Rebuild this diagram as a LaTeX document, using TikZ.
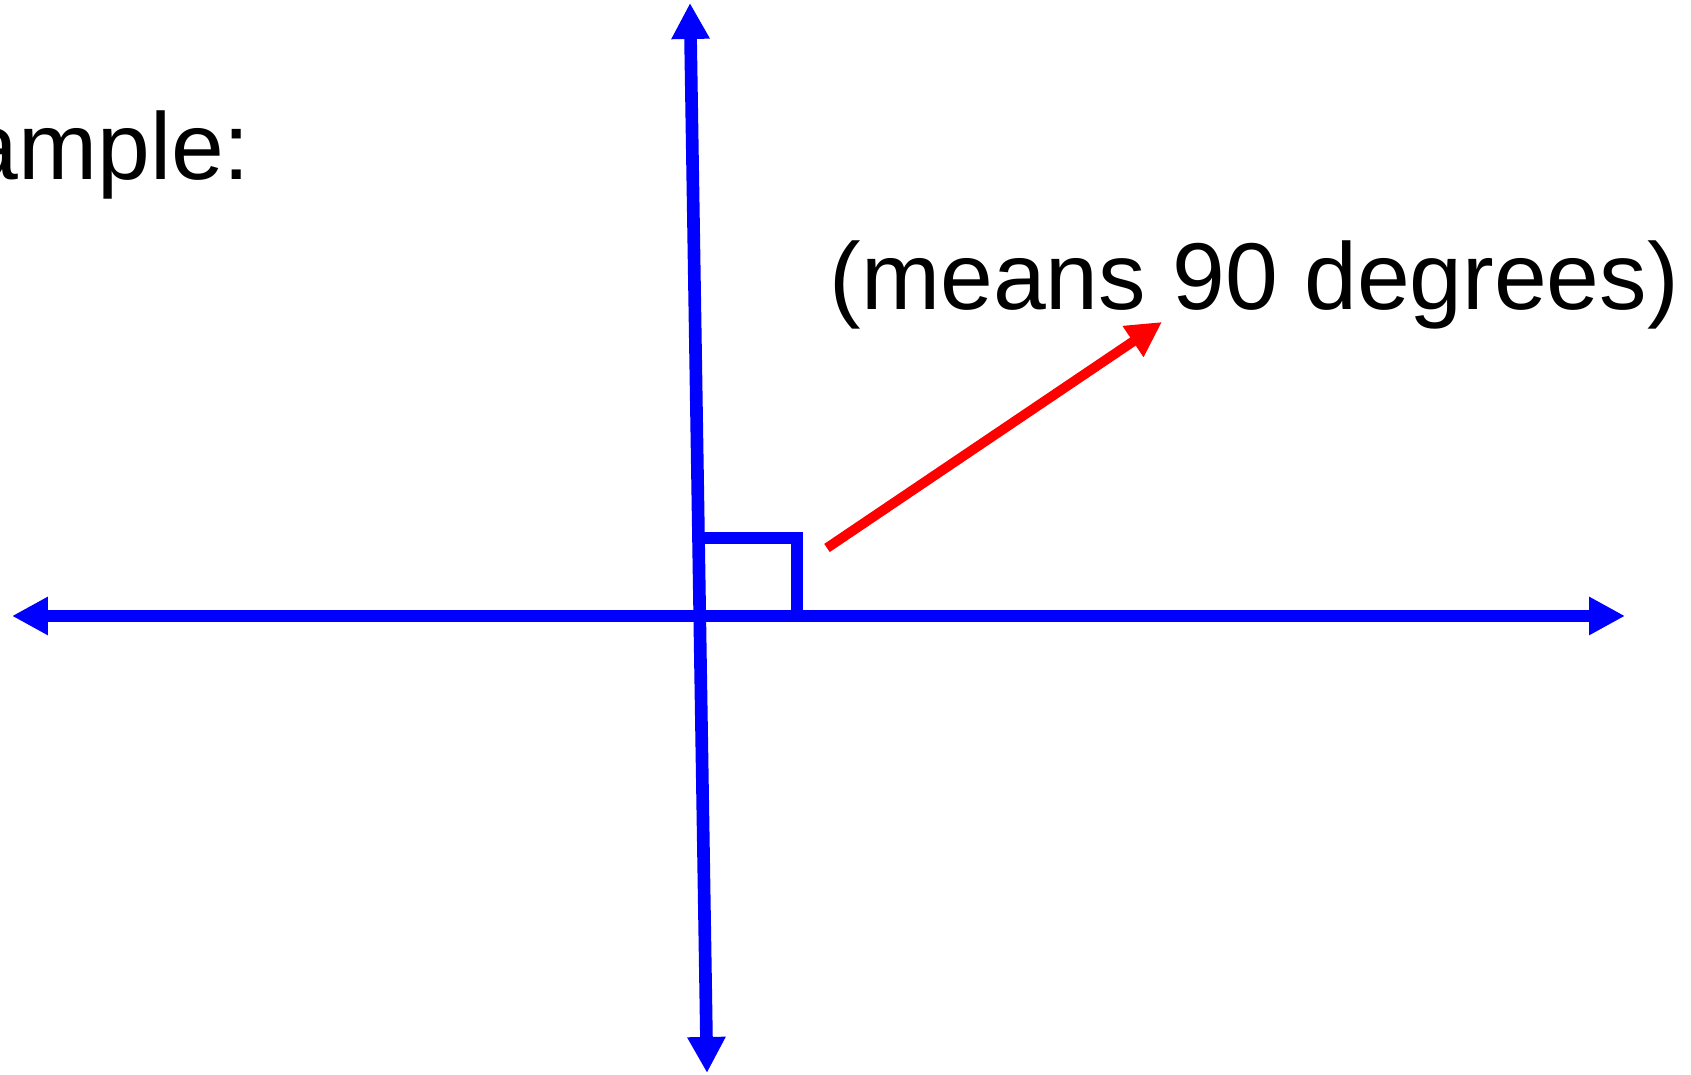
\documentclass[tikz,border=0pt]{standalone}
\usepackage{fontspec}
\setmainfont{Liberation Sans}
\usetikzlibrary{arrows.meta}

\tikzset{
  axisline/.style={blue,line width=3.6pt,>={Triangle[length=3.6mm,width=3.6mm]},<->},
  rightmark/.style={blue,line width=3.6pt,line join=miter},
  pointer/.style={red,line width=2.8pt,-{Triangle[length=3.5mm,width=3.5mm]}},
  label/.style={inner sep=0pt,font=\fontsize{27pt}{32pt}\selectfont}
}

\begin{document}
\begin{tikzpicture}
        \useasboundingbox (0,0) rectangle (16.91,10.75);
        % the two lines
        \coordinate (L) at (0.12,4.59);
        \coordinate (R) at (16.25,4.59);
        \coordinate (T) at (6.90,10.72);
        \coordinate (B) at (7.07,0.02);
        \draw[axisline] (L)--(R);
        \draw[axisline] (T)--(B);
        % right angle mark
        \coordinate (P) at (6.985,5.37);
        \coordinate (Q) at (7.97,5.37);
        \coordinate (S) at (7.97,4.59);
        \draw[rightmark] (P)--(Q)--(S);
        % texts
        \node[label,anchor=base east] (ex) at (2.51,8.95) {Example:};
        \node[label,anchor=base west] (deg) at (8.29,7.65) {(means 90 degrees)};
        \coordinate (tail) at (8.27,5.27);
        \coordinate (tip) at (11.62,7.53);
        \draw[pointer] (tail)--(tip);
\end{tikzpicture}
\end{document}
